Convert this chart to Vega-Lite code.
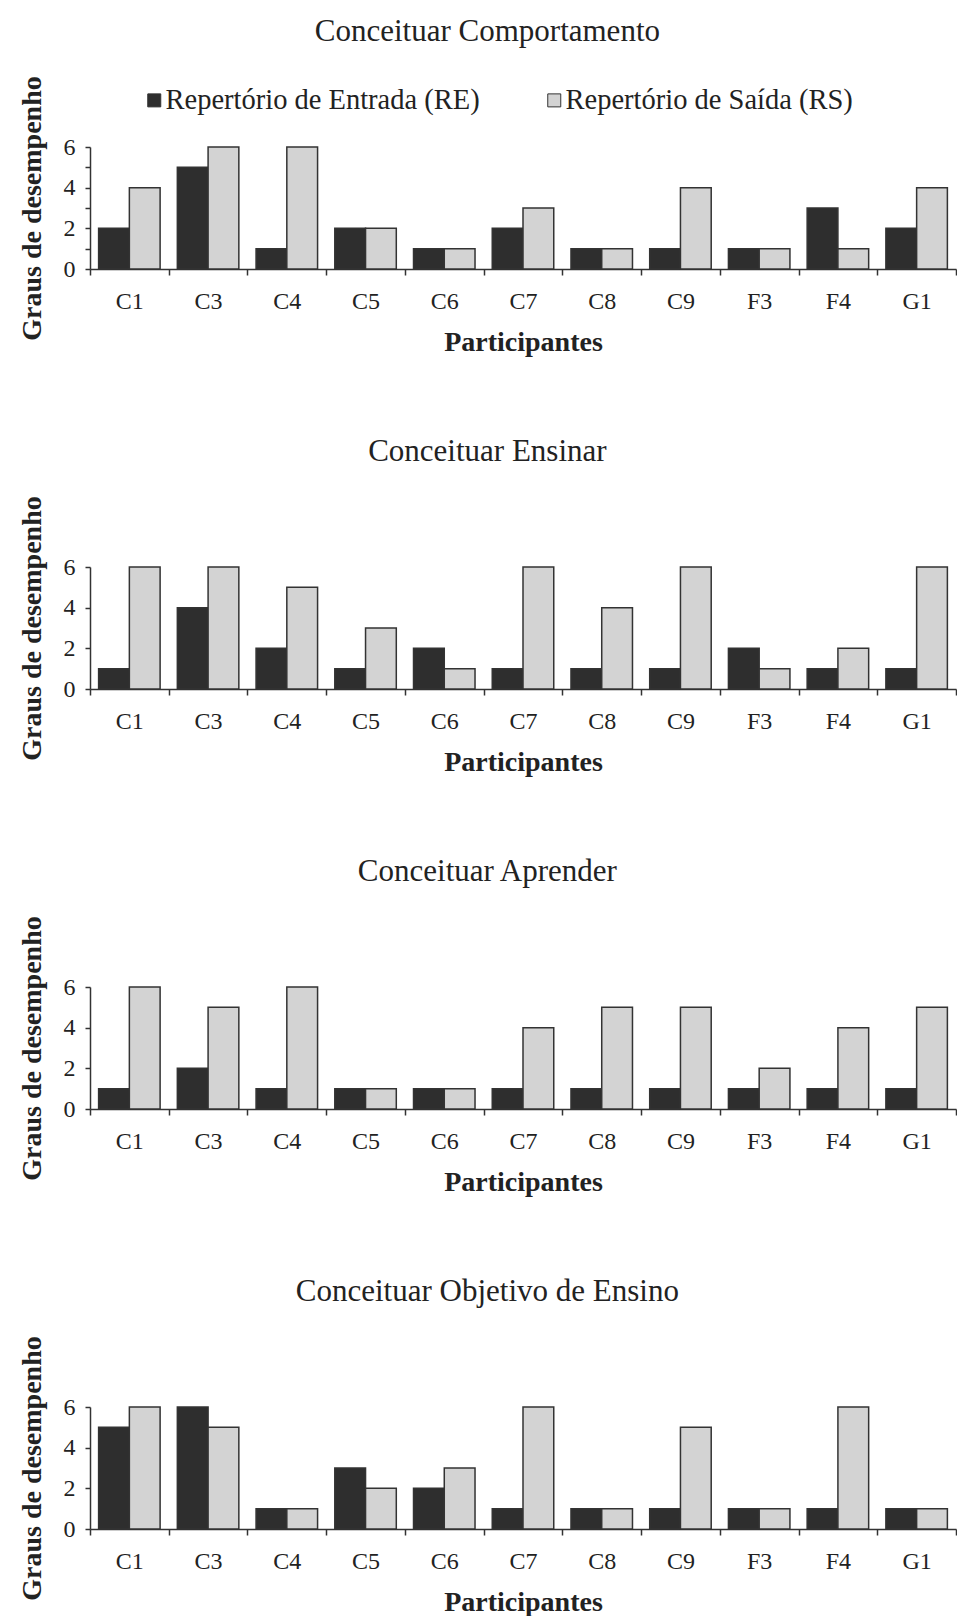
{
  "$schema": "https://vega.github.io/schema/vega-lite/v6.json",
  "background": "white",
  "padding": {"left": 18, "top": 15, "right": 0, "bottom": 0},
  "config": {
    "font": "Liberation Serif",
    "view": {"stroke": null},
    "concat": {"spacing": 79},
    "axis": {
      "labelFont": "Liberation Serif", "labelFontSize": 24, "labelColor": "#222",
      "titleFont": "Liberation Serif", "titleFontSize": 28, "titleFontWeight": "bold", "titleColor": "#222",
      "domainColor": "#333", "domainWidth": 1.5, "tickColor": "#333", "tickWidth": 1.5, "grid": false
    },
    "title": {"font": "Liberation Serif", "fontSize": 31, "fontWeight": "normal", "color": "#222", "anchor": "middle", "frame": "bounds", "offset": 28},
    "legend": {
      "labelFont": "Liberation Serif", "labelFontSize": 28.5, "labelColor": "#222", "labelLimit": 0,
      "symbolType": "square", "symbolSize": 169, "symbolStrokeColor": "#333", "symbolStrokeWidth": 1,
      "labelOffset": -3, "columnPadding": 60
    }
  },
  "datasets": {
    "d": [
      {"painel": "Conceituar Comportamento", "part": "C1", "rep": "RE", "grau": 2},
      {"painel": "Conceituar Comportamento", "part": "C1", "rep": "RS", "grau": 4},
      {"painel": "Conceituar Comportamento", "part": "C3", "rep": "RE", "grau": 5},
      {"painel": "Conceituar Comportamento", "part": "C3", "rep": "RS", "grau": 6},
      {"painel": "Conceituar Comportamento", "part": "C4", "rep": "RE", "grau": 1},
      {"painel": "Conceituar Comportamento", "part": "C4", "rep": "RS", "grau": 6},
      {"painel": "Conceituar Comportamento", "part": "C5", "rep": "RE", "grau": 2},
      {"painel": "Conceituar Comportamento", "part": "C5", "rep": "RS", "grau": 2},
      {"painel": "Conceituar Comportamento", "part": "C6", "rep": "RE", "grau": 1},
      {"painel": "Conceituar Comportamento", "part": "C6", "rep": "RS", "grau": 1},
      {"painel": "Conceituar Comportamento", "part": "C7", "rep": "RE", "grau": 2},
      {"painel": "Conceituar Comportamento", "part": "C7", "rep": "RS", "grau": 3},
      {"painel": "Conceituar Comportamento", "part": "C8", "rep": "RE", "grau": 1},
      {"painel": "Conceituar Comportamento", "part": "C8", "rep": "RS", "grau": 1},
      {"painel": "Conceituar Comportamento", "part": "C9", "rep": "RE", "grau": 1},
      {"painel": "Conceituar Comportamento", "part": "C9", "rep": "RS", "grau": 4},
      {"painel": "Conceituar Comportamento", "part": "F3", "rep": "RE", "grau": 1},
      {"painel": "Conceituar Comportamento", "part": "F3", "rep": "RS", "grau": 1},
      {"painel": "Conceituar Comportamento", "part": "F4", "rep": "RE", "grau": 3},
      {"painel": "Conceituar Comportamento", "part": "F4", "rep": "RS", "grau": 1},
      {"painel": "Conceituar Comportamento", "part": "G1", "rep": "RE", "grau": 2},
      {"painel": "Conceituar Comportamento", "part": "G1", "rep": "RS", "grau": 4},

      {"painel": "Conceituar Ensinar", "part": "C1", "rep": "RE", "grau": 1},
      {"painel": "Conceituar Ensinar", "part": "C1", "rep": "RS", "grau": 6},
      {"painel": "Conceituar Ensinar", "part": "C3", "rep": "RE", "grau": 4},
      {"painel": "Conceituar Ensinar", "part": "C3", "rep": "RS", "grau": 6},
      {"painel": "Conceituar Ensinar", "part": "C4", "rep": "RE", "grau": 2},
      {"painel": "Conceituar Ensinar", "part": "C4", "rep": "RS", "grau": 5},
      {"painel": "Conceituar Ensinar", "part": "C5", "rep": "RE", "grau": 1},
      {"painel": "Conceituar Ensinar", "part": "C5", "rep": "RS", "grau": 3},
      {"painel": "Conceituar Ensinar", "part": "C6", "rep": "RE", "grau": 2},
      {"painel": "Conceituar Ensinar", "part": "C6", "rep": "RS", "grau": 1},
      {"painel": "Conceituar Ensinar", "part": "C7", "rep": "RE", "grau": 1},
      {"painel": "Conceituar Ensinar", "part": "C7", "rep": "RS", "grau": 6},
      {"painel": "Conceituar Ensinar", "part": "C8", "rep": "RE", "grau": 1},
      {"painel": "Conceituar Ensinar", "part": "C8", "rep": "RS", "grau": 4},
      {"painel": "Conceituar Ensinar", "part": "C9", "rep": "RE", "grau": 1},
      {"painel": "Conceituar Ensinar", "part": "C9", "rep": "RS", "grau": 6},
      {"painel": "Conceituar Ensinar", "part": "F3", "rep": "RE", "grau": 2},
      {"painel": "Conceituar Ensinar", "part": "F3", "rep": "RS", "grau": 1},
      {"painel": "Conceituar Ensinar", "part": "F4", "rep": "RE", "grau": 1},
      {"painel": "Conceituar Ensinar", "part": "F4", "rep": "RS", "grau": 2},
      {"painel": "Conceituar Ensinar", "part": "G1", "rep": "RE", "grau": 1},
      {"painel": "Conceituar Ensinar", "part": "G1", "rep": "RS", "grau": 6},

      {"painel": "Conceituar Aprender", "part": "C1", "rep": "RE", "grau": 1},
      {"painel": "Conceituar Aprender", "part": "C1", "rep": "RS", "grau": 6},
      {"painel": "Conceituar Aprender", "part": "C3", "rep": "RE", "grau": 2},
      {"painel": "Conceituar Aprender", "part": "C3", "rep": "RS", "grau": 5},
      {"painel": "Conceituar Aprender", "part": "C4", "rep": "RE", "grau": 1},
      {"painel": "Conceituar Aprender", "part": "C4", "rep": "RS", "grau": 6},
      {"painel": "Conceituar Aprender", "part": "C5", "rep": "RE", "grau": 1},
      {"painel": "Conceituar Aprender", "part": "C5", "rep": "RS", "grau": 1},
      {"painel": "Conceituar Aprender", "part": "C6", "rep": "RE", "grau": 1},
      {"painel": "Conceituar Aprender", "part": "C6", "rep": "RS", "grau": 1},
      {"painel": "Conceituar Aprender", "part": "C7", "rep": "RE", "grau": 1},
      {"painel": "Conceituar Aprender", "part": "C7", "rep": "RS", "grau": 4},
      {"painel": "Conceituar Aprender", "part": "C8", "rep": "RE", "grau": 1},
      {"painel": "Conceituar Aprender", "part": "C8", "rep": "RS", "grau": 5},
      {"painel": "Conceituar Aprender", "part": "C9", "rep": "RE", "grau": 1},
      {"painel": "Conceituar Aprender", "part": "C9", "rep": "RS", "grau": 5},
      {"painel": "Conceituar Aprender", "part": "F3", "rep": "RE", "grau": 1},
      {"painel": "Conceituar Aprender", "part": "F3", "rep": "RS", "grau": 2},
      {"painel": "Conceituar Aprender", "part": "F4", "rep": "RE", "grau": 1},
      {"painel": "Conceituar Aprender", "part": "F4", "rep": "RS", "grau": 4},
      {"painel": "Conceituar Aprender", "part": "G1", "rep": "RE", "grau": 1},
      {"painel": "Conceituar Aprender", "part": "G1", "rep": "RS", "grau": 5},

      {"painel": "Conceituar Objetivo de Ensino", "part": "C1", "rep": "RE", "grau": 5},
      {"painel": "Conceituar Objetivo de Ensino", "part": "C1", "rep": "RS", "grau": 6},
      {"painel": "Conceituar Objetivo de Ensino", "part": "C3", "rep": "RE", "grau": 6},
      {"painel": "Conceituar Objetivo de Ensino", "part": "C3", "rep": "RS", "grau": 5},
      {"painel": "Conceituar Objetivo de Ensino", "part": "C4", "rep": "RE", "grau": 1},
      {"painel": "Conceituar Objetivo de Ensino", "part": "C4", "rep": "RS", "grau": 1},
      {"painel": "Conceituar Objetivo de Ensino", "part": "C5", "rep": "RE", "grau": 3},
      {"painel": "Conceituar Objetivo de Ensino", "part": "C5", "rep": "RS", "grau": 2},
      {"painel": "Conceituar Objetivo de Ensino", "part": "C6", "rep": "RE", "grau": 2},
      {"painel": "Conceituar Objetivo de Ensino", "part": "C6", "rep": "RS", "grau": 3},
      {"painel": "Conceituar Objetivo de Ensino", "part": "C7", "rep": "RE", "grau": 1},
      {"painel": "Conceituar Objetivo de Ensino", "part": "C7", "rep": "RS", "grau": 6},
      {"painel": "Conceituar Objetivo de Ensino", "part": "C8", "rep": "RE", "grau": 1},
      {"painel": "Conceituar Objetivo de Ensino", "part": "C8", "rep": "RS", "grau": 1},
      {"painel": "Conceituar Objetivo de Ensino", "part": "C9", "rep": "RE", "grau": 1},
      {"painel": "Conceituar Objetivo de Ensino", "part": "C9", "rep": "RS", "grau": 5},
      {"painel": "Conceituar Objetivo de Ensino", "part": "F3", "rep": "RE", "grau": 1},
      {"painel": "Conceituar Objetivo de Ensino", "part": "F3", "rep": "RS", "grau": 1},
      {"painel": "Conceituar Objetivo de Ensino", "part": "F4", "rep": "RE", "grau": 1},
      {"painel": "Conceituar Objetivo de Ensino", "part": "F4", "rep": "RS", "grau": 6},
      {"painel": "Conceituar Objetivo de Ensino", "part": "G1", "rep": "RE", "grau": 1},
      {"painel": "Conceituar Objetivo de Ensino", "part": "G1", "rep": "RS", "grau": 1}
    ]
  },
  "vconcat": [
    {
      "title": "Conceituar Comportamento",
      "width": 866, "height": 122,
      "data": {"name": "d"},
      "transform": [{"filter": "datum.painel == 'Conceituar Comportamento'"}],
      "mark": {"type": "bar", "stroke": "#333", "strokeWidth": 1.5},
      "encoding": {
        "x": {"field": "part", "type": "nominal", "sort": ["C1","C3","C4","C5","C6","C7","C8","C9","F3","F4","G1"], "scale": {"paddingInner": 0, "paddingOuter": 0}, "axis": {"title": "Participantes", "labelAngle": 0, "tickBand": "extent", "tickSize": 6, "labelPadding": 14, "titlePadding": 15}},
        "xOffset": {"field": "rep", "type": "nominal", "sort": ["RE","RS"], "scale": {"paddingInner": 0, "paddingOuter": 0.28}},
        "y": {"field": "grau", "type": "quantitative", "scale": {"domain": [0, 6], "nice": false}, "axis": {"title": "Graus de desempenho", "values": [0,1,2,3,4,5,6], "labelExpr": "datum.value % 2 == 0 ? datum.label : ''", "tickSize": 5, "labelPadding": 10, "titlePadding": 17}},
        "color": {"field": "rep", "type": "nominal", "scale": {"domain": ["RE","RS"], "range": ["#2e2e2e","#d3d3d3"]}, "legend": {"orient": "none", "legendX": 50, "legendY": -61, "direction": "horizontal", "title": null, "labelExpr": "datum.label == 'RE' ? 'Repertório de Entrada (RE)' : 'Repertório de Saída (RS)'"}}
      }
    },
    {
      "title": "Conceituar Ensinar",
      "width": 866, "height": 122,
      "data": {"name": "d"},
      "transform": [{"filter": "datum.painel == 'Conceituar Ensinar'"}],
      "mark": {"type": "bar", "stroke": "#333", "strokeWidth": 1.5},
      "encoding": {
        "x": {"field": "part", "type": "nominal", "sort": ["C1","C3","C4","C5","C6","C7","C8","C9","F3","F4","G1"], "scale": {"paddingInner": 0, "paddingOuter": 0}, "axis": {"title": "Participantes", "labelAngle": 0, "tickBand": "extent", "tickSize": 6, "labelPadding": 14, "titlePadding": 15}},
        "xOffset": {"field": "rep", "type": "nominal", "sort": ["RE","RS"], "scale": {"paddingInner": 0, "paddingOuter": 0.28}},
        "y": {"field": "grau", "type": "quantitative", "scale": {"domain": [0, 6], "nice": false}, "axis": {"title": "Graus de desempenho", "values": [0,2,4,6], "tickSize": 5, "labelPadding": 10, "titlePadding": 17}},
        "color": {"field": "rep", "type": "nominal", "scale": {"domain": ["RE","RS"], "range": ["#2e2e2e","#d3d3d3"]}, "legend": {"orient": "none", "legendX": 50, "legendY": -61, "direction": "horizontal", "title": null, "labelExpr": "datum.label == 'RE' ? 'Repertório de Entrada (RE)' : 'Repertório de Saída (RS)'"}}
      }
    },
    {
      "title": "Conceituar Aprender",
      "width": 866, "height": 122,
      "data": {"name": "d"},
      "transform": [{"filter": "datum.painel == 'Conceituar Aprender'"}],
      "mark": {"type": "bar", "stroke": "#333", "strokeWidth": 1.5},
      "encoding": {
        "x": {"field": "part", "type": "nominal", "sort": ["C1","C3","C4","C5","C6","C7","C8","C9","F3","F4","G1"], "scale": {"paddingInner": 0, "paddingOuter": 0}, "axis": {"title": "Participantes", "labelAngle": 0, "tickBand": "extent", "tickSize": 6, "labelPadding": 14, "titlePadding": 15}},
        "xOffset": {"field": "rep", "type": "nominal", "sort": ["RE","RS"], "scale": {"paddingInner": 0, "paddingOuter": 0.28}},
        "y": {"field": "grau", "type": "quantitative", "scale": {"domain": [0, 6], "nice": false}, "axis": {"title": "Graus de desempenho", "values": [0,2,4,6], "tickSize": 5, "labelPadding": 10, "titlePadding": 17}},
        "color": {"field": "rep", "type": "nominal", "scale": {"domain": ["RE","RS"], "range": ["#2e2e2e","#d3d3d3"]}, "legend": {"orient": "none", "legendX": 50, "legendY": -61, "direction": "horizontal", "title": null, "labelExpr": "datum.label == 'RE' ? 'Repertório de Entrada (RE)' : 'Repertório de Saída (RS)'"}}
      }
    },
    {
      "title": "Conceituar Objetivo de Ensino",
      "width": 866, "height": 122,
      "data": {"name": "d"},
      "transform": [{"filter": "datum.painel == 'Conceituar Objetivo de Ensino'"}],
      "mark": {"type": "bar", "stroke": "#333", "strokeWidth": 1.5},
      "encoding": {
        "x": {"field": "part", "type": "nominal", "sort": ["C1","C3","C4","C5","C6","C7","C8","C9","F3","F4","G1"], "scale": {"paddingInner": 0, "paddingOuter": 0}, "axis": {"title": "Participantes", "labelAngle": 0, "tickBand": "extent", "tickSize": 6, "labelPadding": 14, "titlePadding": 15}},
        "xOffset": {"field": "rep", "type": "nominal", "sort": ["RE","RS"], "scale": {"paddingInner": 0, "paddingOuter": 0.28}},
        "y": {"field": "grau", "type": "quantitative", "scale": {"domain": [0, 6], "nice": false}, "axis": {"title": "Graus de desempenho", "values": [0,2,4,6], "tickSize": 5, "labelPadding": 10, "titlePadding": 17}},
        "color": {"field": "rep", "type": "nominal", "scale": {"domain": ["RE","RS"], "range": ["#2e2e2e","#d3d3d3"]}, "legend": {"orient": "none", "legendX": 50, "legendY": -61, "direction": "horizontal", "title": null, "labelExpr": "datum.label == 'RE' ? 'Repertório de Entrada (RE)' : 'Repertório de Saída (RS)'"}}
      }
    }
  ]
}
